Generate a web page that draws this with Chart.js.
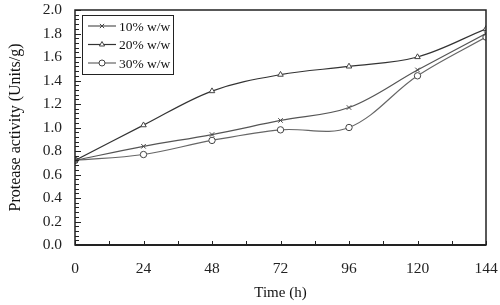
<!DOCTYPE html>
<html>
<head>
<meta charset="utf-8">
<script src="https://cdn.jsdelivr.net/npm/chart.js@4.4.1/dist/chart.umd.min.js"></script>
<style>
    html, body { margin: 0; padding: 0; background: #fff; }
    #wrap { width: 500px; height: 305px; }
</style>
</head>
<body>
<div id="wrap"><canvas id="proteaseChart"></canvas></div>
<script>
// Data
const hours = [0, 24, 48, 72, 96, 120, 144];
const series10 = [0.72, 0.84, 0.94, 1.06, 1.17, 1.49, 1.80];
const series20 = [0.72, 1.02, 1.31, 1.45, 1.52, 1.60, 1.84];
const series30 = [0.72, 0.77, 0.89, 0.98, 1.00, 1.44, 1.77];
const seriesNames = ['10% w/w', '20% w/w', '30% w/w'];
const yTickLabels = ['0.0', '0.2', '0.4', '0.6', '0.8', '1.0', '1.2', '1.4', '1.6', '1.8', '2.0'];

const serif = "'Liberation Serif', 'DejaVu Serif', serif";

function toPoints(values) {
    return hours.map((h, i) => ({ x: h, y: values[i] }));
}

function makeDataset(label, values, style, color) {
    return {
        label: label,
        data: toPoints(values),
        borderColor: color,
        borderWidth: 1.2,
        backgroundColor: '#fff',
        pointStyle: style,
        pointRadius: 3.2,
        pointBorderColor: '#444',
        pointBackgroundColor: '#fff',
        pointBorderWidth: 1,
        tension: 0.35,
        fill: false
    };
}

// Frame, inside ticks and legend box
const decorations = {
    id: 'decorations',
    afterDraw(chart) {
        const ctx = chart.ctx;
        const area = chart.chartArea;
        const xs = chart.scales.x;
        const ys = chart.scales.y;

        ctx.save();
        ctx.strokeStyle = '#222';
        ctx.lineWidth = 1.5;
        ctx.strokeRect(area.left, area.top, area.right - area.left, area.bottom - area.top);
        ctx.lineWidth = 2;
        ctx.beginPath();
        ctx.moveTo(area.left, area.bottom);
        ctx.lineTo(area.right, area.bottom);
        ctx.stroke();

        // x ticks every 12 h, pointing up
        ctx.lineWidth = 1;
        xs.ticks.forEach(t => {
            const px = Math.round(xs.getPixelForValue(t.value)) + 0.5;
            ctx.beginPath();
            ctx.moveTo(px, area.bottom);
            ctx.lineTo(px, area.bottom - 4);
            ctx.stroke();
        });
        // y ticks every 0.04, pointing right
        ys.ticks.forEach(t => {
            const py = Math.round(ys.getPixelForValue(t.value)) + 0.5;
            const major = Math.round(t.value * 100) % 20 === 0;
            ctx.beginPath();
            ctx.moveTo(area.left, py);
            ctx.lineTo(area.left + (major ? 6 : 4), py);
            ctx.stroke();
        });

        // legend
        const bx = area.left + 7, by = area.top + 5, bw = 91, bh = 59;
        ctx.fillStyle = '#fff';
        ctx.fillRect(bx, by, bw, bh);
        ctx.lineWidth = 1;
        ctx.strokeStyle = '#222';
        ctx.strokeRect(bx + 0.5, by + 0.5, bw, bh);
        ctx.font = '13.5px ' + serif;
        ctx.textBaseline = 'middle';
        chart.data.datasets.forEach((ds, i) => {
            const cy = by + 11 + i * 18.5;
            ctx.strokeStyle = ds.borderColor;
            ctx.lineWidth = 1.2;
            ctx.beginPath();
            ctx.moveTo(bx + 6, cy);
            ctx.lineTo(bx + 34, cy);
            ctx.stroke();
            ctx.strokeStyle = ds.pointBorderColor;
            ctx.fillStyle = '#fff';
            ctx.lineWidth = 1;
            Chart.helpers.drawPoint(ctx, { pointStyle: ds.pointStyle, radius: 3, borderWidth: 1, rotation: 0 }, bx + 20, cy);
            ctx.fillStyle = '#111';
            ctx.fillText(ds.label, bx + 37, cy + 1);
        });
        ctx.restore();
    }
};

new Chart(document.getElementById('proteaseChart'), {
    type: 'line',
    data: {
        datasets: [
            makeDataset(seriesNames[0], series10, 'crossRot', '#555'),
            makeDataset(seriesNames[1], series20, 'triangle', '#333'),
            makeDataset(seriesNames[2], series30, 'circle', '#666')
        ]
    },
    options: {
        responsive: true,
        maintainAspectRatio: false,
        animation: false,
        layout: { padding: 0 },
        plugins: {
            legend: { display: false },
            tooltip: { enabled: false }
        },
        scales: {
            x: {
                type: 'linear',
                min: 0,
                max: 144,
                afterFit: s => { s.height = 60; s.paddingRight = 14; },
                grid: { display: false, drawTicks: false },
                border: { display: false },
                ticks: {
                    stepSize: 12,
                    padding: 15,
                    autoSkip: false,
                    maxRotation: 0,
                    color: '#222',
                    font: { family: serif, size: 15.5 },
                    callback: v => (v % 24 === 0 ? String(v) : '')
                },
                title: {
                    display: true,
                    text: 'Time (h)',
                    color: '#111',
                    font: { family: serif, size: 15 },
                    padding: { top: 0, bottom: 3 }
                }
            },
            y: {
                min: 0,
                max: 2.0,
                afterFit: s => { s.width = 75; s.paddingTop = 10; s.paddingBottom = 0; },
                grid: { display: false, drawTicks: false },
                border: { display: false },
                ticks: {
                    stepSize: 0.04,
                    padding: 13,
                    autoSkip: false,
                    color: '#222',
                    font: { family: serif, size: 15.5 },
                    callback: v => {
                        const k = Math.round(v * 100);
                        return k % 20 === 0 ? yTickLabels[k / 20] : '';
                    }
                },
                title: {
                    display: true,
                    text: 'Protease activity (Units/g)',
                    color: '#111',
                    font: { family: serif, size: 16 },
                    padding: { top: 6, bottom: 0 }
                }
            }
        }
    },
    plugins: [decorations]
});
</script>
</body>
</html>
